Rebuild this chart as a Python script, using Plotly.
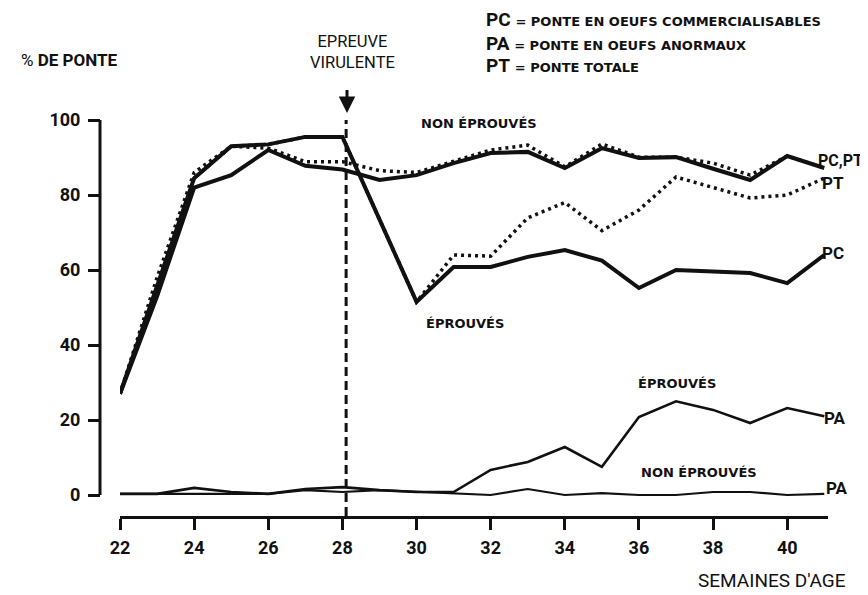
import plotly.graph_objects as go

weeks = list(range(22, 42))

pc_non_eprouves = [27, 53, 82, 85.3, 92, 87.8, 86.8, 84, 85.3, 88.5, 91.2, 91.5, 87.2, 92.5, 89.9, 90.1, 87, 84, 90.4, 87.2]
pt_non_eprouves = [27, 58, 86, 93, 92.5, 88.9, 88.9, 86.5, 86, 89, 92, 93.3, 87.5, 93.6, 90.1, 90.1, 88.5, 85.3, 90.4, 87.2]
pc_eprouves = [27, 56, 84.5, 93, 93.5, 95.5, 95.5, 73.5, 51.5, 60.8, 60.8, 63.5, 65.3, 62.5, 55.2, 60, 59.5, 59.2, 56.5, 64]
pt_eprouves = [27, 56, 84.5, 93, 93.5, 95.5, 95.5, 73.5, 51.5, 64, 63.7, 73.9, 78, 70.5, 76, 84.8, 81.9, 79.2, 80, 84.5]
pa_eprouves = [0.3, 0.3, 1.9, 0.8, 0.3, 1.6, 2.1, 1.3, 0.8, 0.8, 6.7, 8.8, 12.8, 7.5, 20.8, 25, 22.7, 19.2, 23.2, 21]
pa_non_eprouves = [0.3, 0.3, 0.5, 0.3, 0.3, 1.3, 0.8, 1.3, 0.8, 0.5, 0, 1.6, 0, 0.5, 0, 0, 0.8, 0.8, 0, 0.3]

x_ticks = list(range(22, 41, 2))
y_ticks = [0, 20, 40, 60, 80, 100]

NARROW = "Roboto, Liberation Sans, sans-serif"
WIDE = "DejaVu Sans, Verdana, sans-serif"
INK = "#111111"

# page has an 8px body margin: work in page pixels, shift by OFF
OFF = 8
W, H = 868 - OFF, 595 - OFF
L, R, T, B = 100 - OFF, 40, 120 - OFF, 79
PW, PH = W - L - R, H - T - B


def P(px, py):
    """page pixel -> paper coords"""
    return (px - OFF - L) / PW, (H - B - (py - OFF)) / PH


fig = go.Figure()

def add_line(y, width, dash=None):
    fig.add_trace(go.Scatter(
        x=weeks, y=y, mode="lines",
        line=dict(color=INK, width=width, dash=dash, shape="linear"),
        hoverinfo="skip", showlegend=False))

add_line(pt_non_eprouves, 3.5, "3px,4px")
add_line(pt_eprouves, 3.5, "3px,4px")
add_line(pc_non_eprouves, 4)
add_line(pc_eprouves, 4)
add_line(pa_eprouves, 2.6)
add_line(pa_non_eprouves, 2.2)

shapes = [
    # y axis spine (from 0 to 100)
    dict(type="line", xref="paper", yref="y", x0=0, x1=0, y0=0, y1=100,
         line=dict(color=INK, width=3)),
    # challenge dashed line
    dict(type="line", xref="x", yref="y", x0=28.1, x1=28.1, y0=-5.6, y1=100.5,
         line=dict(color=INK, width=3, dash="9px,5px")),
]

ann = []

def text(px, py, s, size, font=NARROW, anchor="left", yanchor="middle"):
    x, y = P(px, py)
    ann.append(dict(xref="paper", yref="paper", x=x, y=y, text=s, showarrow=False,
                    xanchor=anchor, yanchor=yanchor, borderpad=0,
                    font=dict(family=font, size=size, color=INK)))

text(20, 60, "% <b>DE PONTE</b>", 17)

small = "font-family:DejaVu Sans;font-size:13px;font-weight:bold"
text(485, 19, "<b>PC</b> <span style='%s'>= PONTE EN OEUFS COMMERCIALISABLES</span>" % small, 19)
text(485, 43, "<b>PA</b> <span style='%s'>= PONTE EN OEUFS ANORMAUX</span>" % small, 19)
text(485, 65, "<b>PT</b> <span style='%s'>= PONTE TOTALE</span>" % small, 19)

text(352, 52, "EPREUVE<br>VIRULENTE", 16.5, anchor="center")

# arrow pointing down onto the dashed line
ax_, ay_ = P(347, 113)
ann.append(dict(xref="paper", yref="paper", x=ax_, y=ay_, ax=0, ay=-33, text=" ",
                showarrow=True, arrowhead=2, arrowsize=1.1, arrowwidth=3, arrowcolor=INK))

text(420, 123, "<b>NON ÉPROUVÉS</b>", 13, font=WIDE)
text(425, 323, "<b>ÉPROUVÉS</b>", 13, font=WIDE)
text(637, 383, "<b>ÉPROUVÉS</b>", 13, font=WIDE)
text(640, 472, "<b>NON ÉPROUVÉS</b>", 13, font=WIDE)

text(817, 160, "<b>PC,PT</b>", 16)
text(821, 183, "<b>PT</b>", 17)
text(821, 253, "<b>PC</b>", 17)
text(823, 418, "<b>PA</b>", 17)
text(825, 488, "<b>PA</b>", 17)

text(847, 580, "SEMAINES D'AGE", 19, anchor="right")

fig.update_layout(
    width=W, height=H,
    margin=dict(l=L, r=R, t=T, b=B),
    paper_bgcolor="white", plot_bgcolor="white",
    shapes=shapes, annotations=ann,
    xaxis=dict(range=[22, 41.1], domain=[(120 - OFF - L) / PW, 1], tickvals=x_ticks,
               showgrid=False, zeroline=False, showline=True, linecolor=INK, linewidth=3,
               ticks="outside", ticklen=11, tickwidth=2.5, tickcolor=INK,
               ticklabelstandoff=2,
               tickfont=dict(family=NARROW, size=18, color=INK, weight="bold")),
    yaxis=dict(range=[-5.6, 100], anchor="free", position=0, tickvals=y_ticks,
               showgrid=False, zeroline=False, showline=False,
               ticks="outside", ticklen=12, tickwidth=2.5, tickcolor=INK,
               ticklabelstandoff=4,
               tickfont=dict(family=NARROW, size=18, color=INK, weight="bold")),
)

fig.write_html("out.html")
